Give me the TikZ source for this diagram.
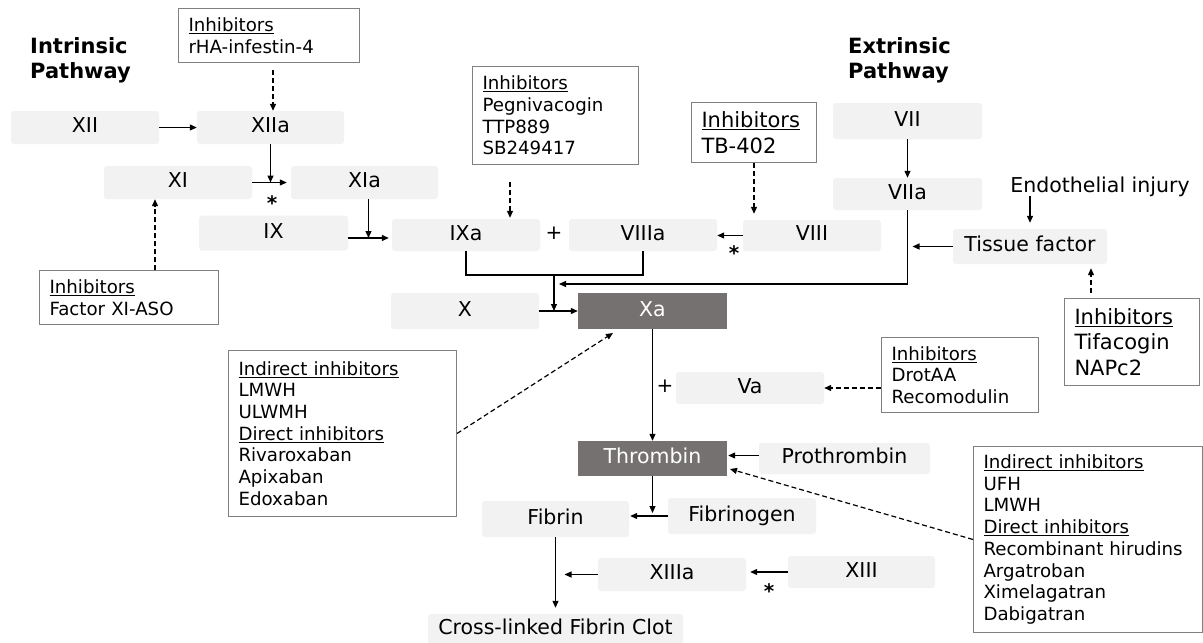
\documentclass[tikz,border=0pt]{standalone}
\usepackage{fontspec}
\setmainfont{DejaVu Sans}
\usetikzlibrary{arrows.meta,calc}
\definecolor{boxgray}{RGB}{242,242,242}
\definecolor{darkbox}{RGB}{118,113,113}
\definecolor{bordergray}{RGB}{128,128,128}
\begin{document}
\begin{tikzpicture}[x=1pt,y=-1pt,
  fac/.style={fill=boxgray, rounded corners=3pt, inner sep=0pt, text height=15pt, text depth=4.5pt,
              font=\fontsize{20.5}{24}\selectfont},
  dark/.style={fill=darkbox, text=white, inner sep=0pt, text height=15pt, text depth=4.5pt,
              font=\fontsize{20.5}{24}\selectfont},
  inh/.style={draw=bordergray, line width=1pt, fill=white, inner xsep=10pt, inner ysep=0pt,
              anchor=north west, align=left, font=\fontsize{18.2}{21.7}\selectfont},
  inhbig/.style={inh, font=\fontsize{21}{25.5}\selectfont},
  head/.style={anchor=north west, inner sep=0pt, align=left, font=\bfseries\fontsize{21}{25}\selectfont},
  star/.style={anchor=base, inner sep=0pt, font=\bfseries\fontsize{20}{23}\selectfont},
  plus/.style={anchor=base, inner sep=0pt, font=\fontsize{20}{23}\selectfont},
  arr/.style={-{Triangle[length=7pt,width=6pt]}, line width=1.2pt},
  darr/.style={arr, dash pattern=on 5pt off 3pt},
  link/.style={line width=1.2pt}
]
\useasboundingbox (0,0) rectangle (1203,643);

% headings
\node[head] (hin) at (30,37) {Intrinsic\\Pathway};
\node[head] (hex) at (848,37) {Extrinsic\\Pathway};

% factor boxes
\node[fac, minimum width=148pt, minimum height=33pt] (XII)  at (85,127.5) {XII};
\node[fac, minimum width=147pt, minimum height=33pt] (XIIa) at (270.5,127.5) {XIIa};
\node[fac, minimum width=148pt, minimum height=33pt] (XI)   at (178,182.5) {XI};
\node[fac, minimum width=147pt, minimum height=33pt] (XIa)  at (364.5,182.5) {XIa};
\node[fac, minimum width=149pt, minimum height=35pt] (IX)   at (273.5,233) {IX};
\node[fac, minimum width=148pt, minimum height=32pt] (IXa)  at (466,235) {IXa};
\node[fac, minimum width=148pt, minimum height=32pt] (VIIIa) at (643,235) {VIIIa};
\node[fac, minimum width=138pt, minimum height=31pt] (VIII) at (812,235.5) {VIII};
\node[fac, minimum width=149pt, minimum height=36pt] (VII)  at (907.5,121) {VII};
\node[fac, minimum width=149pt, minimum height=32pt] (VIIa) at (907.5,194) {VIIa};
\node[fac, minimum width=154pt, minimum height=35pt] (TF)   at (1030,246.5) {Tissue factor};
\node[fac, minimum width=148pt, minimum height=36pt] (X)    at (465,311) {X};
\node[fac, minimum width=148pt, minimum height=32pt] (Va)   at (750,388) {Va};
\node[fac, minimum width=171pt, minimum height=31pt] (Pro)  at (844.5,458.5) {Prothrombin};
\node[fac, minimum width=147pt, minimum height=36pt] (Fibrin) at (555.5,519) {Fibrin};
\node[fac, minimum width=148pt, minimum height=36pt] (Fbg)  at (742,516) {Fibrinogen};
\node[fac, minimum width=148pt, minimum height=33pt] (XIIIa) at (672,574.5) {XIIIa};
\node[fac, minimum width=147pt, minimum height=32pt] (XIII) at (861.5,572) {XIII};
\node[fac, minimum width=255pt, minimum height=31pt] (Clot) at (555.5,629.5) {Cross-linked Fibrin Clot};

\node[dark, minimum width=149pt, minimum height=36pt] (Xa)  at (652.5,311) {Xa};
\node[dark, minimum width=149pt, minimum height=35pt] (Thr) at (652.5,458.5) {Thrombin};

\node[anchor=base, inner sep=0pt, font=\fontsize{20.5}{24}\selectfont] (EI) at (1100,192) {Endothelial injury};

% inhibitor boxes
\node[inh, text width=161pt, minimum height=54pt] (rHA) at (178,8) {\underline{Inhibitors}\\rHA-infestin-4};
\node[inh, text width=146pt, minimum height=98pt] (Peg) at (472,66) {\underline{Inhibitors}\\Pegnivacogin\\TTP889\\SB249417};
\node[inhbig, text width=105pt, minimum height=60pt] (TB) at (691,102) {\underline{Inhibitors}\\TB-402};
\node[inh, text width=159pt, minimum height=54pt] (ASO) at (39,270) {\underline{Inhibitors}\\Factor XI-ASO};
\node[inh, text width=208pt, minimum height=166pt] (LB) at (228,350) {\underline{Indirect inhibitors}\\LMWH\\ULWMH\\\underline{Direct inhibitors}\\Rivaroxaban\\Apixaban\\Edoxaban};
\node[inh, text width=137pt, minimum height=75pt] (DR) at (881,337) {\underline{Inhibitors}\\DrotAA\\Recomodulin};
\node[inhbig, text width=115pt, minimum height=87pt] (TFI) at (1064,298) {\underline{Inhibitors}\\Tifacogin\\NAPc2};
\node[inh, text width=209pt, minimum height=186pt] (RB) at (973,446) {\underline{Indirect inhibitors}\\UFH\\LMWH\\\underline{Direct inhibitors}\\Recombinant hirudins\\Argatroban\\Ximelagatran\\Dabigatran};

% symbols
\node[star] (s1) at (272,210) {*};
\node[star] (s2) at (734,260) {*};
\node[star] (s3) at (769,598) {*};
\node[plus] (p1) at (554,239) {+};
\node[plus] (p2) at (665,392) {+};

% helper coordinates
\coordinate (jXIa) at (368.5,238);
\coordinate (br) at (554,275);
\coordinate (cVII) at (559,284);
\coordinate (dPeg) at (510,182);
\coordinate (dRHA) at (273,70);
\coordinate (dASO) at (155,270);
\coordinate (dTFI) at (1091,293);
\coordinate (tXa) at (613,333);
\coordinate (tThr) at (730,469);

% solid arrows
\draw[arr] (XII) -- (XIIa);
\draw[arr] (XIIa.south) -- (XIIa.south |- XI.east);
\draw[arr] (XI.east) -- ([xshift=-4pt]XIa.west);
\draw[arr] (XIa.south -| jXIa) -- (jXIa);
\draw[arr] (IX.east |- jXIa) -- ([xshift=-3pt]IXa.west |- jXIa);
\draw[link] (IXa.south) -- (IXa.south |- br) -- (VIIIa.south |- br) -- (VIIIa.south);
\draw[arr] (br) -- (br |- X.east);
\draw[arr] (X) -- (Xa);
\draw[arr] (VII) -- (VIIa);
\draw[arr] (VIIa.south) |- (cVII);
\draw[arr, shorten >=5pt] (TF.west) -- (TF.west -| VIIa.south);
\draw[arr, shorten >=6pt] (EI.south -| TF.north) -- (TF.north);
\draw[arr] (VIII.west) -- (VIII.west -| VIIIa.east);
\draw[arr] (Xa) -- (Thr);
\draw[arr] ([yshift=3pt]Pro.west) -- ([yshift=3pt,xshift=1pt]Thr.east);
\draw[arr, shorten >=6pt] (Thr.south) -- (Thr.south |- Fibrin.east);
\draw[arr, shorten >=1pt] (Fbg.west) -- (Fbg.west -| Fibrin.east);
\draw[arr, shorten >=6pt] (Fibrin.south) -- (Clot.north -| Fibrin.south);
\draw[arr, shorten >=9pt] (XIIIa.west) -- (XIIIa.west -| Fibrin.south);
\draw[arr, shorten >=4pt] (XIII.west) -- (XIII.west -| XIIIa.east);

% dashed inhibitor arrows
\draw[darr] (dRHA) -- (dRHA |- XIIa.north);
\draw[darr] (dASO) -- (dASO |- XI.south);
\draw[darr, shorten >=1pt] (dPeg) -- (dPeg |- IXa.north);
\draw[darr, shorten >=6pt] (TB.south) -- (TB.south |- VIII.north);
\draw[darr, shorten >=4pt] (dTFI) -- (dTFI |- TF.south);
\draw[darr] (DR.west |- Va.east) -- (Va.east);
\draw[darr] (LB.east) -- (tXa);
\draw[darr] (RB.west) -- (tThr);
\end{tikzpicture}
\end{document}
